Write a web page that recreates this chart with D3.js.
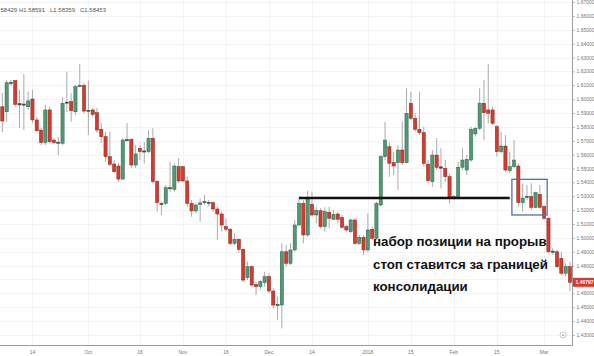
<!DOCTYPE html>
<html><head><meta charset="utf-8">
<script src="https://cdn.jsdelivr.net/npm/d3@7"></script>
<style>body{margin:0;background:#fff}svg{display:block}</style>
</head><body><svg id="c" width="594" height="356"></svg>
<script>
const opens = [
1.5945,1.5909,1.6116,1.6133,1.5968,1.5961,1.5945,1.6001,1.5850,1.5777,
1.5686,1.5922,1.5705,1.5686,1.5682,1.5972,1.5982,1.5909,1.6093,1.6100,
1.5916,1.5922,1.5902,1.5783,1.5729,1.5585,1.5532,1.5518,1.5424,1.5700,
1.5710,1.5525,1.5646,1.5623,1.5621,1.5718,1.5405,1.5249,1.5249,1.5357,
1.5350,1.5513,1.5513,1.5410,1.5249,1.5194,1.5240,1.5257,1.5256,1.5254,
1.5208,1.5172,1.5081,1.5062,1.4961,1.4990,1.4918,1.4713,1.4792,1.4665,
1.4648,1.4677,1.4720,1.4617,1.4516,1.4516,1.4900,1.4817,1.4913,1.5093,
1.5249,1.5021,1.5242,1.5165,1.5196,1.5081,1.5184,1.5134,1.5172,1.5146,
1.5081,1.5045,1.5129,1.4961,1.5004,1.4913,1.5062,1.4997,1.5237,1.5585,
1.5657,1.5542,1.5542,1.5633,1.5542,1.5970,1.5862,1.5783,1.5758,1.5532,
1.5405,1.5597,1.5512,1.5501,1.5441,1.5287,1.5297,1.5509,1.5489,1.5561,
1.5749,1.5790,1.5970,1.5922,1.5922,1.5801,1.5621,1.5662,1.5484,1.5513,
1.5518,1.5254,1.5295,1.5297,1.5220,1.5314,1.5225,1.5141,1.4900,1.4900,
1.4853,1.4745,1.4792];
const highs = [
1.6044,1.6138,1.6138,1.6138,1.6066,1.6181,1.6054,1.6066,1.5873,1.5792,
1.5958,1.5945,1.5718,1.5727,1.6017,1.6198,1.6042,1.6102,1.6253,1.6114,
1.6133,1.5936,1.5936,1.5828,1.5765,1.5765,1.5561,1.5540,1.5718,1.5828,
1.5718,1.5669,1.5669,1.5693,1.5777,1.5790,1.5417,1.5261,1.5381,1.5549,
1.5537,1.5576,1.5518,1.5441,1.5273,1.5249,1.5285,1.5309,1.5273,1.5261,
1.5225,1.5189,1.5141,1.5071,1.5033,1.4997,1.4925,1.4828,1.4804,1.4684,
1.4696,1.4756,1.4745,1.4637,1.4576,1.4961,1.4949,1.4961,1.5129,1.5297,
1.5273,1.5340,1.5333,1.5225,1.5213,1.5220,1.5225,1.5201,1.5189,1.5165,
1.5093,1.5141,1.5141,1.5021,1.5021,1.5177,1.5081,1.5261,1.5597,1.5837,
1.5693,1.5621,1.5669,1.5837,1.6078,1.6054,1.5898,1.6054,1.5801,1.5561,
1.5633,1.5718,1.5646,1.5561,1.5465,1.5309,1.5549,1.5646,1.5597,1.5801,
1.5801,1.6078,1.6138,1.6253,1.5945,1.5813,1.5765,1.5741,1.5621,1.5705,
1.5537,1.5393,1.5381,1.5393,1.5333,1.5381,1.5237,1.5153,1.4925,1.4913,
1.4900,1.4817,1.4828];
const lows = [
1.5763,1.5837,1.6095,1.5945,1.5792,1.5777,1.5922,1.5828,1.5765,1.5669,
1.5669,1.5684,1.5677,1.5597,1.5669,1.5909,1.5837,1.5886,1.6090,1.5898,
1.5741,1.5873,1.5756,1.5684,1.5549,1.5518,1.5465,1.5405,1.5417,1.5693,
1.5504,1.5504,1.5561,1.5537,1.5610,1.5393,1.5189,1.5165,1.5237,1.5333,
1.5333,1.5396,1.5403,1.5225,1.5153,1.5177,1.5117,1.5237,1.5225,1.5189,
1.4985,1.5045,1.5045,1.4949,1.4949,1.4889,1.4684,1.4696,1.4648,1.4588,
1.4624,1.4648,1.4601,1.4492,1.4408,1.4348,1.4792,1.4804,1.4900,1.5081,
1.4961,1.5008,1.5153,1.5105,1.5069,1.5045,1.5069,1.5129,1.5105,1.5069,
1.5045,1.5033,1.4949,1.4949,1.4877,1.4900,1.4985,1.4985,1.5225,1.5561,
1.5441,1.5453,1.5345,1.5525,1.5537,1.5850,1.5765,1.5741,1.5513,1.5393,
1.5369,1.5489,1.5357,1.5405,1.5249,1.5273,1.5285,1.5489,1.5453,1.5549,
1.5729,1.5777,1.5705,1.5826,1.5813,1.5585,1.5610,1.5477,1.5465,1.5501,
1.5225,1.5189,1.5273,1.5201,1.5213,1.5213,1.5129,1.4889,1.4879,1.4783,
1.4733,1.4720,1.4615];
const closes = [
1.5842,1.6118,1.6120,1.5963,1.5958,1.5965,1.5987,1.5850,1.5772,1.5686,
1.5922,1.5693,1.5686,1.5690,1.5970,1.5979,1.5917,1.6090,1.6100,1.5914,
1.5920,1.5890,1.5777,1.5729,1.5585,1.5530,1.5477,1.5424,1.5705,1.5710,
1.5525,1.5605,1.5621,1.5627,1.5718,1.5405,1.5254,1.5240,1.5362,1.5362,
1.5518,1.5410,1.5410,1.5249,1.5194,1.5237,1.5252,1.5262,1.5252,1.5208,
1.5172,1.5093,1.5062,1.4961,1.4990,1.4918,1.4696,1.4792,1.4660,1.4648,
1.4684,1.4720,1.4617,1.4516,1.4521,1.4900,1.4817,1.4913,1.5093,1.5249,
1.5021,1.5285,1.5165,1.5196,1.5081,1.5189,1.5141,1.5170,1.5134,1.5076,
1.5057,1.5129,1.4961,1.5004,1.4913,1.5057,1.4997,1.5249,1.5585,1.5705,
1.5537,1.5518,1.5633,1.5542,1.5898,1.5862,1.5783,1.5758,1.5537,1.5412,
1.5597,1.5509,1.5502,1.5441,1.5285,1.5297,1.5509,1.5561,1.5566,1.5783,
1.5790,1.5970,1.5902,1.5898,1.5826,1.5621,1.5662,1.5489,1.5513,1.5561,
1.5254,1.5287,1.5299,1.5220,1.5326,1.5220,1.5141,1.4900,1.4905,1.4792,
1.4745,1.4792,1.46797];

const xTickIndex  = [7, 20, 32, 42, 52, 62, 72, 85, 95, 105, 115, 126];
const xTickLabels = ["14","Oct","16","Nov","16","Dec","14","2018","15","Feb","15","Mar"];
const yTickValues = [1.43,1.44,1.45,1.46,1.47,1.48,1.49,1.50,1.51,1.52,1.53,1.54,1.55,1.56,1.57,1.58,1.59,1.60,1.61,1.62,1.63,1.64,1.65,1.66,1.67];
const headerLabels = ["58429","H1.58591","L1.58359","C1.58453"];
const lastPrice = 1.46797;
const breakoutLevel = 1.5287, breakoutFrom = 69, breakoutTo = 118;
const rangeHigh = 1.5422, rangeLow = 1.5165, rangeFrom = 118.5, rangeTo = 126.7;
const noteLines = ["набор позиции на прорыв","стоп ставится за границей","консолидации"];

const svg = d3.select("#c");
const N = opens.length;
const plotRight = 572.5, axisY = 345.5;
const x = d3.scaleLinear().domain([0, N-1]).range([2.35, 2.35 + (N-1)*4.3]);
const y = d3.scaleLinear().domain([1.43, 1.67]).range([335, 2]);

// faint grid
const grid = svg.append("g");
grid.selectAll("line.h").data(yTickValues).join("line")
  .attr("x1",0).attr("x2",plotRight).attr("y1",d=>Math.round(y(d))+0.5).attr("y2",d=>Math.round(y(d))+0.5)
  .attr("stroke","#f4f4f4").attr("stroke-width",1);
grid.selectAll("line.v").data(xTickIndex).join("line")
  .attr("x1",d=>Math.round(x(d))+0.5).attr("x2",d=>Math.round(x(d))+0.5).attr("y1",0).attr("y2",axisY)
  .attr("stroke","#f4f4f4").attr("stroke-width",1);

// candles
const idx = d3.range(N);
const cg = svg.append("g");
cg.selectAll("line.w").data(idx).join("line")
  .attr("x1",i=>x(i)).attr("x2",i=>x(i)).attr("y1",i=>y(highs[i])).attr("y2",i=>y(lows[i]))
  .attr("stroke","#a0a0a0").attr("stroke-width",0.9);
const bw = 3.2;
cg.selectAll("rect.b").data(idx).join("rect")
  .attr("x",i=>x(i)-bw/2).attr("width",bw)
  .attr("y",i=>y(Math.max(opens[i],closes[i])))
  .attr("height",i=>Math.max(1.2, Math.abs(y(opens[i])-y(closes[i]))))
  .attr("fill",i=>{const d=Math.abs(y(opens[i])-y(closes[i])); if(d<1.5) return "#444"; return closes[i]>=opens[i]?"#4f9a76":"#d8392c";})
  .attr("stroke",i=>closes[i]>=opens[i]?"#2e5f49":"#7d2a1f").attr("stroke-width",0.5);

// breakout line
svg.append("line")
  .attr("x1",x(breakoutFrom)).attr("x2",x(breakoutTo))
  .attr("y1",y(breakoutLevel)).attr("y2",y(breakoutLevel))
  .attr("stroke","#111").attr("stroke-width",2.6);
// consolidation box
svg.append("rect")
  .attr("x",x(rangeFrom)).attr("y",y(rangeHigh))
  .attr("width",x(rangeTo)-x(rangeFrom)).attr("height",y(rangeLow)-y(rangeHigh))
  .attr("fill","none").attr("stroke","#4f72a6").attr("stroke-width",1.3);

// annotation
svg.append("g").selectAll("text").data(noteLines).join("text")
  .attr("x",373).attr("y",(d,i)=>246+i*22.5)
  .attr("font-family","Liberation Sans, Arial, sans-serif").attr("font-weight","bold")
  .attr("font-size",13.3).attr("fill","#111").text(d=>d);

// axes
svg.append("line").attr("x1",0).attr("x2",plotRight).attr("y1",axisY).attr("y2",axisY).attr("stroke","#9a9a9a").attr("stroke-width",1);
svg.append("line").attr("x1",plotRight).attr("x2",plotRight).attr("y1",0).attr("y2",axisY).attr("stroke","#9a9a9a").attr("stroke-width",1);

const visibleYTicks = yTickValues.filter(v => Math.abs(y(v) - y(lastPrice)) > 6);
const yAxis = d3.axisRight(y).tickValues(visibleYTicks).tickFormat(d3.format(".5f")).tickSize(2).tickPadding(2);
const ya = svg.append("g").attr("transform",`translate(${plotRight},0)`).call(yAxis);
ya.select(".domain").remove();
ya.selectAll("line").attr("stroke","#aaa");
ya.selectAll("text").attr("font-family","Liberation Sans, Arial, sans-serif").attr("font-size",5).attr("fill","#777");

const xa = svg.append("g");
xa.selectAll("text").data(xTickIndex).join("text")
  .attr("x",i=>x(i)).attr("y",353.5).attr("text-anchor","middle")
  .attr("font-family","Liberation Sans, Arial, sans-serif").attr("font-size",5).attr("fill","#777")
  .text((d,i)=>xTickLabels[i]);

// last price label
const lp = svg.append("g");
lp.append("rect").attr("x",plotRight+0.5).attr("y",y(lastPrice)-4.5).attr("width",594-plotRight).attr("height",9).attr("fill","#d8392c");
lp.append("text").attr("x",plotRight+3).attr("y",y(lastPrice)+1.8)
  .attr("font-family","Liberation Sans, Arial, sans-serif").attr("font-size",5).attr("font-weight","bold").attr("fill","#fff")
  .text(d3.format(".5f")(lastPrice));

// header OHLC
const hx = [0.5, 19, 50, 80];
svg.append("g").selectAll("text").data(headerLabels).join("text")
  .attr("x",(d,i)=>hx[i]).attr("y",11.5)
  .attr("font-family","Liberation Sans, Arial, sans-serif").attr("font-size",6).attr("fill","#555")
  .text(d=>d);

// small settings icon
svg.append("circle").attr("cx",563).attr("cy",335).attr("r",3).attr("fill","none").attr("stroke","#bbb").attr("stroke-width",0.8);
svg.append("circle").attr("cx",563).attr("cy",335).attr("r",1).attr("fill","#aaa");
</script></body></html>
